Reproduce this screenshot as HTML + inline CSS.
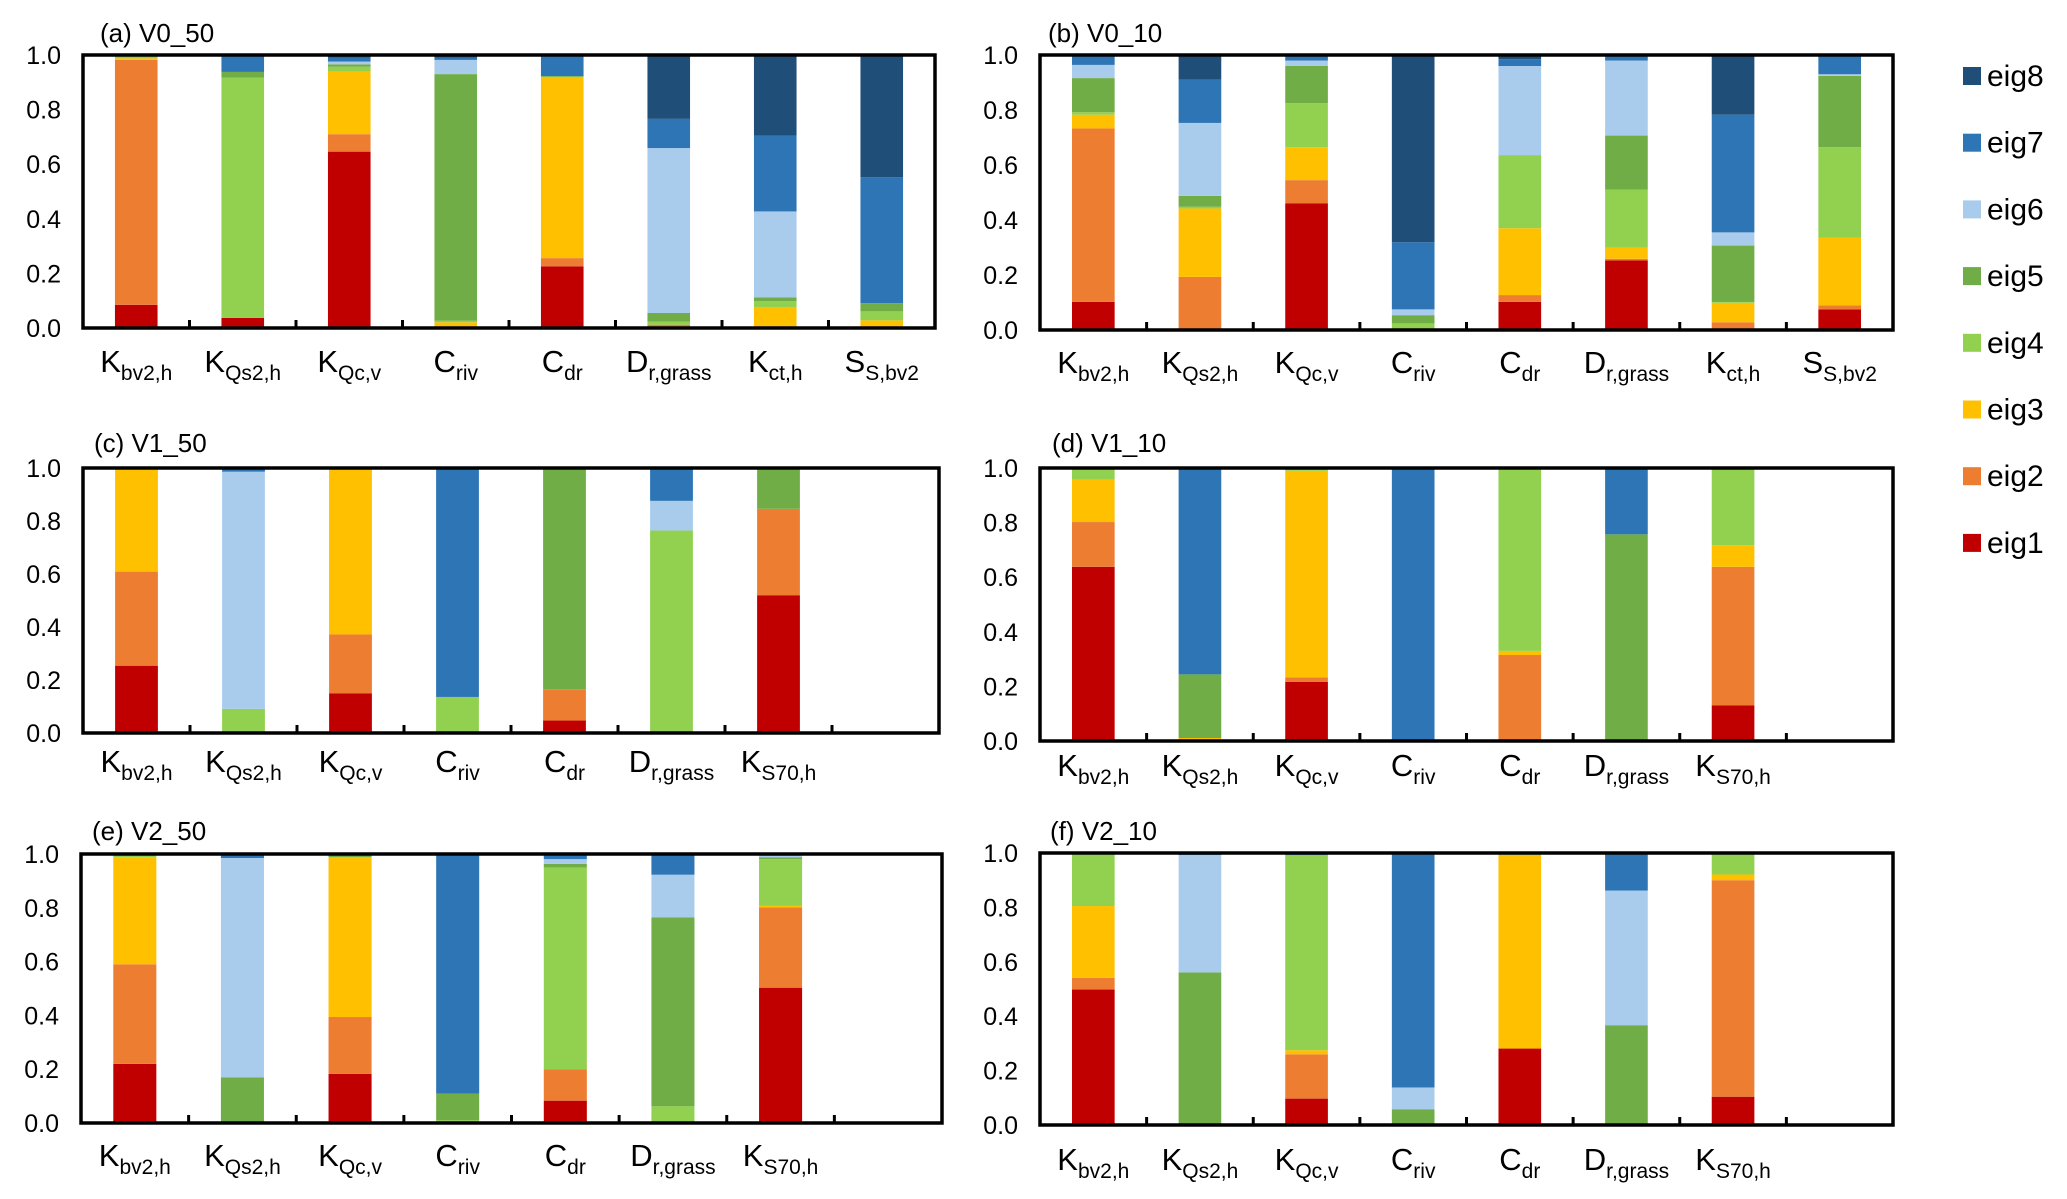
<!DOCTYPE html>
<html><head><meta charset="utf-8"><style>
html,body{margin:0;padding:0;background:#fff;}
svg{display:block;font-family:"Liberation Sans",Arial,sans-serif;}
</style></head><body>
<svg id="chart" width="2067" height="1199" viewBox="0 0 2067 1199" xmlns="http://www.w3.org/2000/svg"></svg>
<script>
// ---- data ----
const seriesNames = ["eig1","eig2","eig3","eig4","eig5","eig6","eig7","eig8"];
const catsA = [["K","bv2,h"],["K","Qs2,h"],["K","Qc,v"],["C","riv"],["C","dr"],["D","r,grass"],["K","ct,h"],["S","S,bv2"]];
const catsC = [["K","bv2,h"],["K","Qs2,h"],["K","Qc,v"],["C","riv"],["C","dr"],["D","r,grass"],["K","S70,h"]];
const tickLabels = ["0.0","0.2","0.4","0.6","0.8","1.0"];
const tickValues = [0,0.2,0.4,0.6,0.8,1.0];
// each row = one category, values eig1..eig8
const valsA = [
 [.085,.897,.006,.010,.002,0,0,0],
 [.037,0,0,.880,.021,0,.062,0],
 [.646,.064,.229,.018,.009,.010,.015,.009],
 [0,0,.021,.006,.903,.052,.009,.009],
 [.226,.030,.661,.003,.003,0,.077,0],
 [.006,.006,0,.012,.031,.604,.107,.234],
 [0,0,.077,.021,.014,.315,.277,.296],
 [0,0,.028,.033,.030,0,.461,.448]];
const valsB = [
 [.102,.631,.050,.009,.124,.048,.036,0],
 [0,.193,.249,.006,.040,.265,.157,.090],
 [.460,.085,.120,.160,.135,.020,.020,0],
 [0,0,0,.024,.030,.021,.244,.681],
 [.102,.025,.243,.266,0,.324,.025,.015],
 [.253,.006,.040,.211,.197,.273,.020,0],
 [0,.028,.071,.003,.205,.048,.428,.217],
 [.075,.015,.245,.330,.259,.006,.070,0]];
const valsC = [
 [.254,.355,.385,.003,0,0,.003,0],
 [0,0,0,.091,0,.895,.014,0],
 [.150,.222,.622,0,0,0,.006,0],
 [0,0,0,.136,0,0,.864,0],
 [.047,.118,0,0,.829,0,.006,0],
 [0,0,0,.764,0,.112,.124,0],
 [.520,.326,0,0,.148,0,.006,0]];
const valsD = [
 [.638,.164,.155,.043,0,0,0,0],
 [0,0,.011,0,.233,0,.756,0],
 [.217,.016,.757,.004,0,0,.006,0],
 [0,0,0,0,0,0,1,0],
 [0,.315,.015,.670,0,0,0,0],
 [0,0,0,0,.757,0,.243,0],
 [.131,.507,.079,.277,0,0,.006,0]];
const valsE = [
 [.220,.370,.398,.012,0,0,0,0],
 [0,0,0,0,.170,.815,.015,0],
 [.183,.211,.594,0,.012,0,0,0],
 [0,0,0,.010,.099,0,.891,0],
 [.083,.116,0,.751,.013,.018,.019,0],
 [0,0,0,.062,.702,.159,.077,0],
 [.503,.298,.006,.174,.007,.006,.006,0]];
const valsF = [
 [.498,.043,.264,.193,0,0,.002,0],
 [0,0,0,0,.561,.432,.007,0],
 [.097,.163,.015,.718,0,0,.007,0],
 [0,0,0,0,.058,.080,.862,0],
 [.281,0,.712,.003,0,0,.004,0],
 [0,0,0,0,.367,.495,.138,0],
 [.104,.796,.021,.077,0,0,.002,0]];

const colors = ["#C00000","#ED7D31","#FFC000","#92D050","#70AD47","#A9CCEC","#2E75B6","#1F4E79"];
const NS = "http://www.w3.org/2000/svg";
const svg = document.getElementById("chart");
function mk(tag, attrs, parent){const e=document.createElementNS(NS,tag);for(const k in attrs)e.setAttribute(k,attrs[k]);(parent||svg).appendChild(e);return e;}

const panels = [
 {id:"a",title:"(a) V0_50",cats:catsA,vals:valsA,x0:83,x1:935,y0:55,y1:328,lab:372,tx:100,ty:42},
 {id:"b",title:"(b) V0_10",cats:catsA,vals:valsB,x0:1040,x1:1893,y0:55,y1:330,lab:373,tx:1048,ty:42},
 {id:"c",title:"(c) V1_50",cats:catsC,vals:valsC,x0:83,x1:939,y0:468,y1:733,lab:772,tx:94,ty:452},
 {id:"d",title:"(d) V1_10",cats:catsC,vals:valsD,x0:1040,x1:1893,y0:468,y1:741,lab:776,tx:1052,ty:452},
 {id:"e",title:"(e) V2_50",cats:catsC,vals:valsE,x0:81,x1:942,y0:854,y1:1123,lab:1166,tx:92,ty:840},
 {id:"f",title:"(f) V2_10",cats:catsC,vals:valsF,x0:1040,x1:1893,y0:853,y1:1125,lab:1170,tx:1050,ty:840}
];

panels.forEach(p=>{
  const g = mk("g",{});
  
  
  const slots = 8;
  const sw = (p.x1-p.x0)/slots;
  const yScale = v => p.y1 - v*(p.y1-p.y0);
  const xCenter = i => p.x0 + sw*(i+0.5);
  const bw = sw*0.4;
  // title
  const t = mk("text",{x:p.tx,y:p.ty,"font-size":26,fill:"#000"},g);
  
  
  t.textContent = p.title;
  // bars
  p.vals.forEach((row,i)=>{
    let cum = 0;
    row.forEach((v,s)=>{
      if(v<=0) return;
      const yTop = yScale(cum+v), yBot = yScale(cum);
      const r = mk("rect",{x:xCenter(i)-bw/2,y:yTop,width:bw,height:Math.max(0,yBot-yTop),fill:colors[s]},g);
      
      
      cum += v;
    });
  });
  // frame
  const fr = mk("rect",{x:p.x0,y:p.y0,width:p.x1-p.x0,height:p.y1-p.y0,fill:"none",stroke:"#000","stroke-width":3.5},g);
  
  
  // x ticks
  for(let k=1;k<slots;k++){
    const x = p.x0+sw*k;
    const tk = mk("line",{x1:x,x2:x,y1:p.y1,y2:p.y1-8,stroke:"#000","stroke-width":3},g);
    
    
  }
  // y tick labels
  tickValues.forEach((v,k)=>{
    const yl = mk("text",{x:p.x0-22,y:yScale(v)+9,"font-size":25,"text-anchor":"end",fill:"#000"},g);
    
    
    yl.textContent = tickLabels[k];
  });
  // category labels
  p.cats.forEach((c,i)=>{
    const tl = mk("text",{x:xCenter(i),y:p.lab,"font-size":31,"text-anchor":"middle",fill:"#000"},g);
    
    
    const m = mk("tspan",{},tl); m.textContent = c[0];
    const s = mk("tspan",{dy:8,"font-size":21},tl); s.textContent = c[1];
  });
});

// legend
const lg = mk("g",{});


for(let k=0;k<8;k++){
  const s = 7-k;
  const y = 76 + k*66.7;
  const sq = mk("rect",{x:1963,y:y-9,width:18,height:18,fill:colors[s]},lg);
  
  
  const tx = mk("text",{x:1987,y:y+10,"font-size":30,fill:"#000"},lg);
  
  
  tx.textContent = seriesNames[s];
}
</script>
</body></html>
